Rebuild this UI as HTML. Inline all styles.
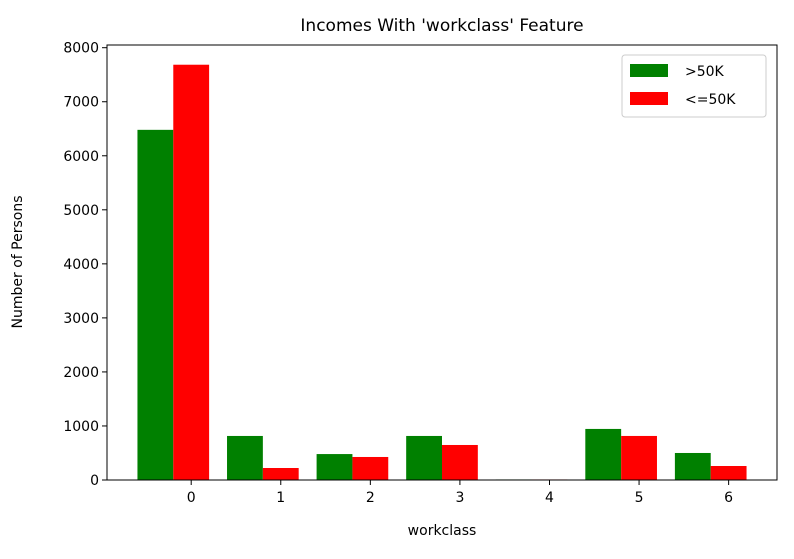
<!DOCTYPE html>
<html><head><meta charset="utf-8"><style>
body{margin:0;background:#fff;font-family:"Liberation Sans","DejaVu Sans",sans-serif;}
svg text{font-family:"DejaVu Sans","Liberation Sans",sans-serif;}
</style></head><body>
<svg id="chart" width="794" height="554">
<text x="442" y="31" font-size="17" text-anchor="middle">Incomes With 'workclass' Feature</text>
<g id="bars"></g>
<g id="axes"></g>
<rect x="107" y="45" width="670" height="435" fill="none" stroke="#000" stroke-width="1"/>
<text x="442" y="535" font-size="14" text-anchor="middle">workclass</text>
<text x="22" y="262" font-size="14" text-anchor="middle" transform="rotate(-90 22 262)">Number of Persons</text>
<g>
<rect x="622" y="55" width="144" height="62" fill="#fff" stroke="#ccc" rx="3"/>
<rect x="630" y="64" width="38" height="13" fill="#008000"/>
<text x="685" y="76" font-size="14">&gt;50K</text>
<rect x="630" y="92" width="38" height="13" fill="#ff0000"/>
<text x="685" y="104" font-size="14">&lt;=50K</text>
</g>
</svg>
<script>
const categories=[0,1,2,3,4,5,6];
const gt50k=[6480,815,480,815,10,945,500];
const le50k=[7685,222,426,648,10,815,259];
const yTicks=[0,1000,2000,3000,4000,5000,6000,7000,8000];
const NS="http://www.w3.org/2000/svg";
const x0=107,x1=777,y0=480,y1=45;
const xmin=-0.94,xmax=6.54,ymin=0,ymax=8050;
function sx(v){return x0+(v-xmin)/(xmax-xmin)*(x1-x0);}
function sy(v){return y0-(v-ymin)/(ymax-ymin)*(y0-y1);}
const bars=document.getElementById('bars'),axes=document.getElementById('axes');
function mk(t,a,p){const e=document.createElementNS(NS,t);for(const k in a)e.setAttribute(k,a[k]);p.appendChild(e);return e;}
categories.forEach((c,i)=>{
  const g=mk('rect',{x:sx(c-0.6),y:sy(gt50k[i]),width:sx(c-0.2)-sx(c-0.6),height:y0-sy(gt50k[i]),fill:'#008000'},bars);
  
  
  const r=mk('rect',{x:sx(c-0.2),y:sy(le50k[i]),width:sx(c+0.2)-sx(c-0.2),height:y0-sy(le50k[i]),fill:'#ff0000'},bars);
  
  
  mk('line',{x1:sx(c),x2:sx(c),y1:y0,y2:y0+5,stroke:'#000'},axes);
  const t=mk('text',{x:sx(c),y:y0+22,'font-size':14,'text-anchor':'middle'},axes);
  t.textContent=c;
  
  
});
yTicks.forEach(v=>{
  mk('line',{x1:x0-5,x2:x0,y1:sy(v),y2:sy(v),stroke:'#000'},axes);
  const t=mk('text',{x:x0-8,y:sy(v)+5,'font-size':14,'text-anchor':'end'},axes);
  t.textContent=v;
  
  
});
</script>
</body></html>
